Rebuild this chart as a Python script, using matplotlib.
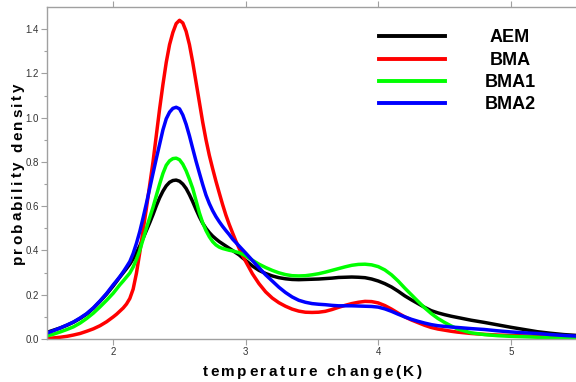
import matplotlib
matplotlib.use("Agg")
import matplotlib.pyplot as plt
from matplotlib.font_manager import FontProperties
from matplotlib.textpath import TextToPath
from matplotlib.lines import Line2D

# ---------------- data ----------------
temp = [1.5, 1.55, 1.6, 1.65, 1.7, 1.75, 1.8, 1.85, 1.9, 1.95, 2.0,
        2.025, 2.05, 2.075, 2.1, 2.125, 2.15, 2.175, 2.2, 2.225, 2.25, 2.275, 2.3,
        2.325, 2.35, 2.375, 2.4, 2.425, 2.45, 2.475, 2.5, 2.525, 2.55, 2.575, 2.6,
        2.625, 2.65, 2.675, 2.7, 2.725, 2.75, 2.775, 2.8, 2.825, 2.85, 2.875, 2.9,
        2.925, 2.95, 2.975, 3.0,
        3.05, 3.1, 3.15, 3.2, 3.25, 3.3, 3.35, 3.4, 3.45, 3.5, 3.55, 3.6, 3.65,
        3.7, 3.75, 3.8, 3.85, 3.9, 3.95, 4.0, 4.05, 4.1, 4.15, 4.2, 4.25, 4.3,
        4.35, 4.4, 4.45, 4.5, 4.55, 4.6,
        4.7, 4.8, 4.9, 5.0, 5.1, 5.2, 5.3, 5.4, 5.5]

aem = [0.030, 0.040, 0.050, 0.062, 0.076, 0.093, 0.113, 0.139, 0.170, 0.203, 0.240,
       0.260, 0.280, 0.299, 0.318, 0.338, 0.362, 0.390, 0.420, 0.455, 0.490, 0.525, 0.562,
       0.602, 0.638, 0.668, 0.692, 0.708, 0.716, 0.718, 0.713, 0.700, 0.680, 0.652, 0.620,
       0.585, 0.552, 0.523, 0.500, 0.481, 0.465, 0.452, 0.440, 0.430, 0.420, 0.410, 0.400,
       0.390, 0.380, 0.367, 0.355,
       0.330, 0.310, 0.296, 0.285, 0.277, 0.272, 0.269, 0.268, 0.269, 0.270, 0.271, 0.273,
       0.275, 0.278, 0.279, 0.280, 0.279, 0.277, 0.271, 0.262, 0.250, 0.235, 0.216, 0.195,
       0.177, 0.160, 0.143, 0.128, 0.118, 0.110, 0.103, 0.097,
       0.085, 0.075, 0.064, 0.053, 0.043, 0.033, 0.026, 0.020, 0.016]

bma = [0.002, 0.005, 0.008, 0.012, 0.018, 0.025, 0.035, 0.046, 0.060, 0.078, 0.100,
       0.112, 0.126, 0.140, 0.158, 0.183, 0.225, 0.297, 0.390, 0.490, 0.590, 0.695, 0.800,
       0.920, 1.040, 1.150, 1.250, 1.330, 1.385, 1.425, 1.440, 1.428, 1.390, 1.330, 1.250,
       1.160, 1.070, 0.980, 0.900, 0.830, 0.770, 0.713, 0.660, 0.608, 0.560, 0.518, 0.480,
       0.443, 0.410, 0.378, 0.350,
       0.295, 0.250, 0.213, 0.185, 0.164, 0.148, 0.135, 0.126, 0.121, 0.120, 0.121, 0.125,
       0.133, 0.143, 0.152, 0.160, 0.166, 0.170, 0.169, 0.163, 0.151, 0.135, 0.117, 0.100,
       0.086, 0.074, 0.062, 0.052, 0.045, 0.040, 0.035, 0.031,
       0.025, 0.021, 0.018, 0.016, 0.014, 0.011, 0.008, 0.007, 0.006]

bma1 = [0.014, 0.022, 0.032, 0.043, 0.055, 0.072, 0.093, 0.117, 0.145, 0.175, 0.207,
        0.226, 0.245, 0.262, 0.280, 0.298, 0.325, 0.360, 0.400, 0.450, 0.500, 0.548, 0.595,
        0.648, 0.700, 0.748, 0.785, 0.805, 0.815, 0.817, 0.810, 0.790, 0.760, 0.722, 0.680,
        0.625, 0.570, 0.525, 0.490, 0.462, 0.440, 0.425, 0.415, 0.409, 0.405, 0.401, 0.398,
        0.394, 0.390, 0.383, 0.375,
        0.356, 0.338, 0.323, 0.310, 0.299, 0.291, 0.286, 0.285, 0.286, 0.290, 0.295, 0.302,
        0.310, 0.318, 0.326, 0.333, 0.337, 0.338, 0.335, 0.327, 0.312, 0.290, 0.262, 0.230,
        0.200, 0.170, 0.141, 0.115, 0.093, 0.075, 0.059, 0.045,
        0.028, 0.020, 0.015, 0.012, 0.010, 0.008, 0.005, 0.004, 0.003]

bma2 = [0.027, 0.038, 0.050, 0.063, 0.077, 0.095, 0.115, 0.141, 0.172, 0.206, 0.245,
        0.263, 0.282, 0.303, 0.326, 0.350, 0.386, 0.432, 0.485, 0.547, 0.612, 0.680, 0.748,
        0.815, 0.880, 0.945, 0.995, 1.025, 1.042, 1.047, 1.040, 1.012, 0.970, 0.918, 0.860,
        0.803, 0.750, 0.698, 0.650, 0.612, 0.580, 0.553, 0.530, 0.509, 0.490, 0.472, 0.452,
        0.436, 0.420, 0.404, 0.388,
        0.355, 0.322, 0.290, 0.262, 0.234, 0.210, 0.190, 0.175, 0.166, 0.160, 0.157, 0.155,
        0.152, 0.150, 0.150, 0.150, 0.149, 0.148, 0.147, 0.144, 0.136, 0.125, 0.112, 0.100,
        0.089, 0.080, 0.072, 0.065, 0.060, 0.057, 0.054, 0.052,
        0.047, 0.043, 0.037, 0.032, 0.028, 0.025, 0.020, 0.016, 0.013]

series_names = ["AEM", "BMA", "BMA1", "BMA2"]
series_values = [aem, bma, bma1, bma2]
series_colors = ["#000000", "#ff0000", "#00ff00", "#0000ff"]

x_ticks = [2, 3, 4, 5]
y_ticks = [0.0, 0.2, 0.4, 0.6, 0.8, 1.0, 1.2, 1.4]
y_minor = [0.1, 0.3, 0.5, 0.7, 0.9, 1.1, 1.3]
x_label = "temperature change(K)"
y_label = "probability density"

for v in series_values:
    assert len(v) == len(temp)

# ---------------- figure ----------------
W, H = 576, 382
fig = plt.figure(figsize=(W / 100, H / 100), dpi=100)
fig.patch.set_facecolor("white")
ax = fig.add_axes([47 / W, 1 - 339 / H, 530 / W, 332 / H])

for vals, col in zip(series_values, series_colors):
    ax.plot(temp, vals, color=col, lw=2.5, solid_capstyle="round",
            solid_joinstyle="round")

ax.set_xlim(1.5, 5.5)
ax.set_ylim(0, 1.5)
ax.set_xticks(x_ticks)
ax.set_xticklabels([str(t) for t in x_ticks])
ax.set_yticks(y_ticks)
ax.set_yticklabels([f"{t:.1f}" for t in y_ticks])
ax.set_yticks(y_minor, minor=True)

spine_col = "#a0a0a0"
for s in ["left", "bottom", "top"]:
    ax.spines[s].set_color(spine_col)
    ax.spines[s].set_linewidth(1.0)
ax.spines["right"].set_visible(False)

tick_font = FontProperties(family="Liberation Sans", size=7)
ax.tick_params(axis="both", which="major", direction="out", length=4,
               width=0.8, color=spine_col, labelcolor="#333333", pad=2)
ax.tick_params(axis="x", top=True, labeltop=False)
ax.tick_params(axis="y", which="minor", direction="out", length=2.5,
               width=0.8, color=spine_col)
for lab in ax.get_xticklabels() + ax.get_yticklabels():
    lab.set_fontproperties(tick_font)

# ---------------- letter-spaced labels ----------------
t2p = TextToPath()
lab_font = FontProperties(family="Liberation Sans", weight="bold", size=11)


def spaced_text(s, cx_px, cy_px, spacing_px, fp, vertical=False):
    k = fig.dpi / 72.0
    adv = [0.0]
    for i in range(1, len(s) + 1):
        adv.append(t2p.get_text_width_height_descent(s[:i], fp, ismath=False)[0] * k)
    total = adv[-1] + (len(s) - 1) * spacing_px
    start = (cx_px if not vertical else (H - cy_px)) - total / 2
    for i, ch in enumerate(s):
        if ch == " ":
            continue
        pos = start + adv[i] + i * spacing_px
        if not vertical:
            fig.text(pos / W, 1 - cy_px / H, ch, ha="left", va="baseline",
                     fontproperties=fp, color="black")
        else:
            fig.text(cx_px / W, pos / H, ch, ha="left", va="baseline",
                     rotation=90, rotation_mode="anchor",
                     fontproperties=fp, color="black")


spaced_text(x_label, 312, 376, 2.6, lab_font)
spaced_text(y_label, 22, 174, 2.5, lab_font, vertical=True)

# ---------------- legend ----------------
leg_font = FontProperties(family="Liberation Sans", weight="bold", size=13)
leg_y = [36, 58.5, 80.5, 102.5]
for name, col, yy in zip(series_names, series_colors, leg_y):
    fig.add_artist(Line2D([379 / W, 445 / W], [1 - yy / H, 1 - yy / H],
                          color=col, lw=2.8, transform=fig.transFigure))
    fig.text(510 / W, 1 - (yy + 6.5) / H, name, ha="center", va="baseline",
             fontproperties=leg_font, color="black")

fig.savefig("out.png", dpi=100, facecolor="white")
